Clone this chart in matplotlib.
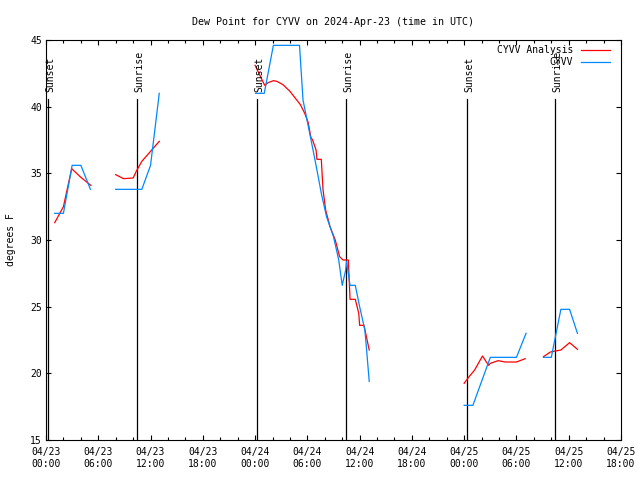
import numpy as np
import matplotlib
matplotlib.use("Agg")
import matplotlib.pyplot as plt

# hours since 2024-04-23 00:00 UTC, nan = gap
anal_hours = [1.0, 2.0, 2.95, 4.0, 5.15,
              np.nan,
              8.0, 8.9, 10.0, 10.4, 11.0, 13.0,
              np.nan,
              24.0, 25.1, 25.5, 26.1, 26.5, 27.2, 28.0, 28.6, 29.2, 29.7, 30.1, 30.4,
              30.6, 31.0, 31.1, 31.6, 31.8, 32.1, 32.6, 33.2, 33.7, 34.1, 34.7, 34.9,
              35.5, 35.9, 36.0, 36.5, 37.1,
              np.nan,
              48.0, 48.5, 49.2, 50.1, 50.8, 51.0, 51.9, 52.7, 54.0, 55.0,
              np.nan,
              57.1, 57.9, 59.1, 60.1, 61.0]
anal_dewpt = [31.3, 32.5, 35.35, 34.7, 34.1,
              np.nan,
              34.9, 34.6, 34.65, 35.2, 35.9, 37.4,
              np.nan,
              43.1, 41.6, 41.8, 41.95, 41.9, 41.65, 41.15, 40.65, 40.15, 39.5, 38.8, 37.7,
              37.5, 36.75, 36.05, 36.05, 33.75, 32.25, 31.0, 30.0, 28.75, 28.5, 28.5, 25.55,
              25.55, 24.5, 23.6, 23.6, 21.75,
              np.nan,
              19.25, 19.7, 20.25, 21.3, 20.6, 20.75, 20.95, 20.85, 20.85, 21.1,
              np.nan,
              21.25, 21.6, 21.75, 22.3, 21.8]

obs_hours = [1.0, 2.0, 3.0, 4.0, 5.1,
             np.nan,
             8.0, 9.0, 10.0, 11.0, 12.0, 13.0,
             np.nan,
             24.05, 25.05, 26.1, 29.1, 29.5, 29.9, 30.5, 31.1, 31.6, 32.2, 33.0, 33.6,
             34.0, 34.4, 34.5, 34.9, 35.5, 36.0, 36.6, 36.8, 37.1,
             np.nan,
             48.0, 49.0, 50.0, 51.0, 52.0, 53.0, 54.0, 55.1,
             np.nan,
             57.1, 58.0, 59.1, 60.1, 61.0]
obs_dewpt = [32.0, 32.0, 35.6, 35.6, 33.8,
             np.nan,
             33.8, 33.8, 33.8, 33.8, 35.6, 41.0,
             np.nan,
             41.0, 41.0, 44.6, 44.6, 40.5, 39.2, 37.25, 35.25, 33.5, 31.75, 30.25, 28.5,
             26.6, 27.75, 28.4, 26.6, 26.6, 25.0, 23.25, 21.75, 19.4,
             np.nan,
             17.6, 17.6, 19.4, 21.2, 21.2, 21.2, 21.2, 23.0,
             np.nan,
             21.2, 21.2, 24.8, 24.8, 23.0]

sun_hours = [0.25, 10.45, 24.2, 34.45, 48.35, 58.45]
sun_names = ["Sunset", "Sunrise", "Sunset", "Sunrise", "Sunset", "Sunrise"]

tick_hours = [0, 6, 12, 18, 24, 30, 36, 42, 48, 54, 60, 66]
tick_labels = ["04/23\n00:00", "04/23\n06:00", "04/23\n12:00", "04/23\n18:00",
               "04/24\n00:00", "04/24\n06:00", "04/24\n12:00", "04/24\n18:00",
               "04/25\n00:00", "04/25\n06:00", "04/25\n12:00", "04/25\n18:00"]

plt.rcParams['font.family'] = ['DejaVu Sans Mono']
plt.rcParams['font.size'] = 7

fig = plt.figure(figsize=(6.4, 4.8), dpi=100)
ax = fig.add_axes([46/640, 40/480, 575/640, 400/480])

for h, name in zip(sun_hours, sun_names):
	ax.plot([h, h], [15, 40.6], color='black', lw=0.9)
	ax.text(h + 0.25, 41.1, name, rotation=90, ha='center', va='bottom', fontsize=7)

ax.plot(anal_hours, anal_dewpt, color='#ff0000', lw=0.9)
ax.plot(obs_hours, obs_dewpt, color='#0088ff', lw=0.9)

ax.set_xlim(0, 66)
ax.set_ylim(15, 45)
ax.set_xticks(tick_hours)
ax.set_xticklabels(tick_labels)
ax.set_xticks(np.arange(0, 67, 2), minor=True)
ax.set_yticks([15, 20, 25, 30, 35, 40, 45])
ax.tick_params(which='both', direction='in', top=True, right=True, width=0.8)
ax.tick_params(which='major', length=3.5)
ax.tick_params(which='minor', length=2)
ax.tick_params(axis='x', pad=5)
ax.tick_params(axis='y', length=3.5, pad=3)
for s in ax.spines.values():
	s.set_linewidth(0.8)

ax.set_title("Dew Point for CYVV on 2024-Apr-23 (time in UTC)", fontsize=7.2, pad=11)
ax.set_ylabel("degrees F", labelpad=10)

# legend drawn gnuplot style (right aligned text)
ax.text(0.9165, 0.975, "CYVV Analysis", transform=ax.transAxes, ha='right', va='center')
ax.plot([0.930, 0.981], [0.975, 0.975], transform=ax.transAxes, color='#ff0000', lw=0.9)
ax.text(0.9165, 0.945, "CYVV", transform=ax.transAxes, ha='right', va='center')
ax.plot([0.930, 0.981], [0.945, 0.945], transform=ax.transAxes, color='#0088ff', lw=0.9)

fig.savefig("out.png", dpi=100)
